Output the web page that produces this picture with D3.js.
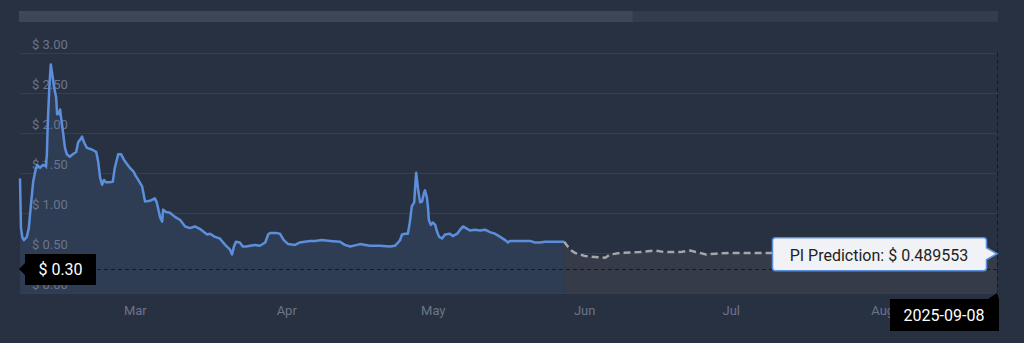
<!DOCTYPE html>
<html>
<head>
<meta charset="utf-8">
<script src="https://cdn.jsdelivr.net/npm/d3@7"></script>
<style>
  html, body { margin: 0; padding: 0; background: #283142; }
  svg { display: block; font-family: Roboto, "Noto Sans", sans-serif; }
</style>
</head>
<body>
<svg width="1024" height="343"></svg>
<script>
// Datos: días desde el 2025-02-20 y precio en dólares
const fechaInicio = new Date(2025, 1, 20);
const fechaFin = new Date(2025, 8, 8);

const histDias = [0, 0.2, 0.5, 0.8, 1.4, 1.8, 2.3, 2.7, 3.1, 3.5, 4.1, 4.7, 5.3, 5.5, 5.7, 6.0, 6.3, 6.6, 7.0, 7.4,
  7.6, 7.8, 8.0, 8.2, 8.4, 8.8, 9.2, 9.6, 10.2, 10.8, 11.5, 11.9, 12.3, 12.7, 13.1, 13.7, 14.7, 15.6, 16.0, 16.4,
  16.8, 17.2, 17.6, 18.4, 19.0, 19.4, 20.1, 20.7, 21.3, 22.5, 23.3, 23.5, 24.2, 25.0, 25.6, 26.6, 27.6, 28.0, 28.7, 29.1,
  29.3, 29.9, 30.7, 31.7, 32.8, 33.8, 34.8, 35.8, 36.8, 38.3, 38.9, 39.9, 40.9, 42.0, 43.0, 43.4, 43.8, 44.2, 45.0, 45.6,
  46.3, 47.1, 48.1, 49.1, 50.2, 50.8, 51.2, 52.4, 53.2, 54.0, 54.9, 56.3, 57.3, 58.3, 59.4, 60.4, 61.8, 63.5, 65.5, 66.5,
  67.6, 69.0, 69.6, 71.6, 73.7, 75.7, 76.8, 77.4, 77.8, 78.2, 78.8, 79.4, 79.8, 80.2, 80.7, 80.9, 81.1, 81.5, 81.9, 82.3,
  82.7, 82.9, 83.3, 83.5, 83.7, 84.1, 84.5, 85.0, 85.4, 85.8, 86.4, 87.0, 88.0, 88.6, 89.5, 90.1, 90.7, 91.3, 92.1, 93.1,
  94.2, 95.2, 96.2, 97.2, 98.3, 99.3, 99.9, 100.3, 101.3, 102.4, 104.4, 105.4, 106.4, 107.5, 108.5, 109.5, 110.5, 111.4];
const histPrecio = [1.43, 0.81, 0.69, 0.66, 0.70, 0.81, 1.14, 1.39, 1.51, 1.60, 1.56, 1.60, 1.58, 1.73, 2.14, 2.56, 2.85, 2.73, 2.56, 2.44,
  2.23, 2.26, 2.23, 2.29, 2.19, 2.01, 1.81, 1.73, 1.70, 1.73, 1.76, 1.88, 1.91, 1.95, 1.88, 1.81, 1.79, 1.76, 1.64, 1.44,
  1.35, 1.41, 1.38, 1.38, 1.39, 1.56, 1.73, 1.73, 1.66, 1.56, 1.51, 1.48, 1.41, 1.33, 1.14, 1.15, 1.18, 1.13, 0.94, 0.89,
  1.04, 1.01, 1.00, 0.95, 0.91, 0.83, 0.81, 0.83, 0.80, 0.73, 0.74, 0.70, 0.68, 0.60, 0.54, 0.48, 0.58, 0.64, 0.63, 0.58,
  0.58, 0.59, 0.60, 0.59, 0.63, 0.73, 0.75, 0.75, 0.74, 0.66, 0.61, 0.60, 0.63, 0.64, 0.65, 0.65, 0.66, 0.65, 0.64, 0.60,
  0.58, 0.60, 0.61, 0.59, 0.59, 0.58, 0.59, 0.63, 0.66, 0.73, 0.74, 0.74, 0.88, 1.08, 1.13, 1.33, 1.50, 1.29, 1.13, 1.14,
  1.25, 1.28, 1.19, 1.08, 0.91, 0.85, 0.88, 0.85, 0.76, 0.70, 0.68, 0.73, 0.74, 0.71, 0.74, 0.79, 0.83, 0.81, 0.78, 0.79,
  0.78, 0.79, 0.76, 0.74, 0.70, 0.66, 0.63, 0.65, 0.65, 0.65, 0.65, 0.63, 0.63, 0.64, 0.64, 0.64, 0.64, 0.64];

const predDias = [111.4, 112.6, 113.6, 115.7, 117.7, 119.8, 120.8, 122.8, 126.9, 130.0, 132.0, 135.1, 137.2, 139.2,
  140.4, 142.3, 145.3, 151.5, 159.7, 169.9, 180.1, 190.4, 200];
const predPrecio = [0.64, 0.54, 0.50, 0.46, 0.45, 0.44, 0.48, 0.50, 0.51, 0.53, 0.51, 0.51, 0.53, 0.50,
  0.48, 0.49, 0.50, 0.50, 0.50, 0.49, 0.49, 0.49, 0.489553];

const etiquetasY = [0, 0.5, 1, 1.5, 2, 2.5, 3];
const mesesX = [new Date(2025, 2, 15, 12), new Date(2025, 3, 15, 12), new Date(2025, 4, 15, 12),
  new Date(2025, 5, 15, 12), new Date(2025, 6, 15, 12), new Date(2025, 7, 15, 12)];
const precioCursor = 0.30;
const textoPrediccion = 'PI Prediction: $ 0.489553';
const textoFecha = '2025-09-08';

const svg = d3.select('svg');
const izq = 20, der = 997, arriba = 52.5, abajo = 293;

const aFecha = d => new Date(fechaInicio.getTime() + d * 864e5);
const hist = histDias.map((d, i) => ({ fecha: aFecha(d), valor: histPrecio[i] }));
const pred = predDias.map((d, i) => ({ fecha: aFecha(d), valor: predPrecio[i] }));

const x = d3.scaleTime().domain([fechaInicio, fechaFin]).range([izq, der]);
const y = d3.scaleLinear().domain([0, 3]).range([abajo, arriba]);

// barra de navegación superior
svg.append('rect').attr('x', 19).attr('y', 11).attr('width', 979).attr('height', 11).attr('fill', '#333c4c');
svg.append('rect').attr('x', 19).attr('y', 11).attr('width', x(aFecha(125.4)) - 19).attr('height', 11).attr('fill', '#3e4657');

// rejilla
svg.append('g')
  .selectAll('line')
  .data(etiquetasY)
  .join('line')
    .attr('x1', izq).attr('x2', der + 1)
    .attr('y1', d => Math.round(y(d)) + 0.5).attr('y2', d => Math.round(y(d)) + 0.5)
    .attr('stroke', '#353f51')
    .attr('stroke-width', 1);

// áreas
const area = d3.area().x(d => x(d.fecha)).y0(y(0)).y1(d => y(d.valor));
svg.append('path').datum(hist).attr('d', area).attr('fill', '#2e3c54');
svg.append('path').datum(pred).attr('d', area).attr('fill', '#353b48');

// etiquetas eje y
svg.append('g')
  .selectAll('text')
  .data(etiquetasY)
  .join('text')
    .attr('x', 32)
    .attr('y', d => y(d) - 4)
    .attr('fill', '#6b7589')
    .attr('font-size', 13)
    .text(d => '$ ' + d.toFixed(2));

// eje x
const ejeX = svg.append('g')
  .attr('transform', `translate(0, ${abajo})`)
  .call(d3.axisBottom(x).tickValues(mesesX).tickFormat(d3.timeFormat('%b')).tickSize(0).tickPadding(13));
ejeX.select('.domain').remove();
ejeX.selectAll('text').attr('fill', '#6b7589').attr('font-size', 13).attr('font-family', 'Roboto, sans-serif');

// líneas
const linea = d3.line().x(d => x(d.fecha)).y(d => y(d.valor));
svg.append('path').datum(hist).attr('d', linea)
  .attr('fill', 'none').attr('stroke', '#5b8fdc').attr('stroke-width', 2.5).attr('stroke-linejoin', 'round');
svg.append('path').datum(pred).attr('d', linea)
  .attr('fill', 'none').attr('stroke', '#a5a7aa').attr('stroke-width', 2.5).attr('stroke-dasharray', '7,4');

// cursores
svg.append('line')
  .attr('x1', izq).attr('x2', der)
  .attr('y1', Math.round(y(precioCursor)) + 0.5).attr('y2', Math.round(y(precioCursor)) + 0.5)
  .attr('stroke', '#151a22').attr('stroke-dasharray', '4,3');
svg.append('line')
  .attr('x1', Math.round(x(fechaFin)) + 0.5).attr('x2', Math.round(x(fechaFin)) + 0.5)
  .attr('y1', arriba).attr('y2', abajo)
  .attr('stroke', '#151a22').attr('stroke-dasharray', '4,3');

// etiqueta precio cursor
const yc = y(precioCursor);
svg.append('path')
  .attr('d', `M19,${yc} L25,${yc - 6} L25,${yc - 15} L96,${yc - 15} L96,${yc + 16} L25,${yc + 16} L25,${yc + 6} Z`)
  .attr('fill', '#000');
svg.append('text').attr('x', 60.5).attr('y', yc + 6).attr('text-anchor', 'middle')
  .attr('fill', '#fff').attr('font-size', 16).text('$ ' + precioCursor.toFixed(2));

// etiqueta fecha cursor
const xc = x(fechaFin);
svg.append('path')
  .attr('d', `M890,299 L${xc - 9},299 L${xc},${abajo} L${xc + 2},299 L${xc + 2},331 L890,331 Z`)
  .attr('fill', '#000');
svg.append('text').attr('x', 944).attr('y', 321).attr('text-anchor', 'middle')
  .attr('fill', '#fff').attr('font-size', 16).text(textoFecha);

// tooltip predicción
const yp = y(predPrecio[predPrecio.length - 1]);
svg.append('path')
  .attr('d', `M775.5,${yp - 16} L983.5,${yp - 16} Q986.5,${yp - 16} 986.5,${yp - 13} L986.5,${yp - 6} L${xc},${yp} L986.5,${yp + 6} L986.5,${yp + 14} Q986.5,${yp + 17} 983.5,${yp + 17} L775.5,${yp + 17} Q772.5,${yp + 17} 772.5,${yp + 14} L772.5,${yp - 13} Q772.5,${yp - 16} 775.5,${yp - 16} Z`)
  .attr('fill', '#f0f2f5').attr('stroke', '#5b8fdc').attr('stroke-width', 1.5);
svg.append('text').attr('x', 879).attr('y', yp + 7).attr('text-anchor', 'middle')
  .attr('fill', '#222').attr('font-size', 16).text(textoPrediccion);
</script>
</body>
</html>
